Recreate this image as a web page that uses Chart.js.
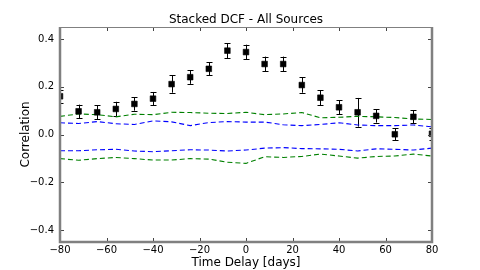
<!DOCTYPE html>
<html><head><meta charset="utf-8">
<script src="https://cdn.jsdelivr.net/npm/chart.js@4.4.0/dist/chart.umd.min.js"></script>
<style>html,body{margin:0;padding:0;background:#fff}</style>
</head><body>
<canvas id="c" width="480" height="270"></canvas>
<script>
const delays = [-80,-72,-64,-56,-48,-40,-32,-24,-16,-8,0,8,16,24,32,40,48,56,64,72,80];
const dcf = [0.160,0.097,0.093,0.107,0.128,0.150,0.211,0.240,0.275,0.351,0.345,0.295,0.295,0.207,0.154,0.114,0.093,0.078,0.001,0.074,0.003];
const dcfErr = [0.027,0.028,0.030,0.030,0.028,0.028,0.036,0.028,0.028,0.031,0.031,0.031,0.031,0.032,0.032,0.030,0.060,0.028,0.025,0.027,0.025];
const greenUpper = [0.076,0.086,0.083,0.074,0.085,0.083,0.093,0.092,0.089,0.088,0.093,0.083,0.086,0.092,0.070,0.072,0.076,0.074,0.071,0.065,0.063];
const blueUpper = [0.049,0.046,0.054,0.045,0.042,0.057,0.053,0.037,0.050,0.054,0.052,0.052,0.041,0.037,0.042,0.049,0.040,0.037,0.037,0.040,0.032];
const blueLower = [-0.068,-0.068,-0.064,-0.062,-0.069,-0.072,-0.068,-0.064,-0.065,-0.069,-0.065,-0.057,-0.055,-0.059,-0.060,-0.062,-0.069,-0.060,-0.062,-0.065,-0.057];
const greenLower = [-0.101,-0.108,-0.101,-0.096,-0.101,-0.107,-0.107,-0.101,-0.103,-0.116,-0.121,-0.093,-0.096,-0.092,-0.082,-0.090,-0.099,-0.092,-0.090,-0.082,-0.090];
const xTicks = [-80,-60,-40,-20,0,20,40,60,80];
const yTicks = [-0.4,-0.2,0.0,0.2,0.4];
const titleText = 'Stacked DCF - All Sources';
const xLabel = 'Time Delay [days]';
const yLabel = 'Correlation';

const FONT = 'DejaVu Sans';
const pts = arr => delays.map((d,i)=>({x:d,y:arr[i]}));
const band = (arr,color) => ({data:pts(arr),showLine:true,borderColor:color,borderWidth:1.1,borderDash:[5,3],pointRadius:0,fill:false,tension:0,clip:0,order:2});
const minus = s => s.replace('-', '\u2212');

const decor = {
  id:'decor',
  beforeDatasetsDraw(chart){
    const {ctx, chartArea:a, scales:{x,y}} = chart;
    ctx.save();
    ctx.beginPath(); ctx.rect(a.left,a.top,a.right-a.left,a.bottom-a.top); ctx.clip();
    ctx.strokeStyle='#000'; ctx.lineWidth=1;
    delays.forEach((d,i)=>{
      const px = Math.round(x.getPixelForValue(d))+0.5;
      const t = y.getPixelForValue(dcf[i]+dcfErr[i]);
      const b = y.getPixelForValue(dcf[i]-dcfErr[i]);
      ctx.beginPath();
      ctx.moveTo(px,t); ctx.lineTo(px,b);
      ctx.moveTo(px-3,Math.round(t)+0.5); ctx.lineTo(px+3,Math.round(t)+0.5);
      ctx.moveTo(px-3,Math.round(b)+0.5); ctx.lineTo(px+3,Math.round(b)+0.5);
      ctx.stroke();
    });
    ctx.restore();
  },
  afterDraw(chart){
    const {ctx, chartArea:a, scales:{x,y}} = chart;
    ctx.save();
    // ticks inward
    ctx.strokeStyle='#444'; ctx.lineWidth=1;
    ctx.beginPath();
    xTicks.forEach(v=>{const p=Math.round(x.getPixelForValue(v))+0.5;
      ctx.moveTo(p,a.bottom); ctx.lineTo(p,a.bottom-4);
      ctx.moveTo(p,a.top); ctx.lineTo(p,a.top+4);});
    yTicks.forEach(v=>{const p=Math.round(y.getPixelForValue(v))+0.5;
      ctx.moveTo(a.left,p); ctx.lineTo(a.left+4,p);
      ctx.moveTo(a.right,p); ctx.lineTo(a.right-4,p);});
    ctx.stroke();
    // spines
    ctx.strokeStyle='#808080';
    ctx.lineWidth=1;
    ctx.beginPath(); ctx.moveTo(a.left,a.top+0.5); ctx.lineTo(a.right,a.top+0.5); ctx.stroke();
    ctx.lineWidth=2.5;
    ctx.beginPath();
    ctx.moveTo(a.left,a.top); ctx.lineTo(a.left,a.bottom); ctx.lineTo(a.right,a.bottom); ctx.lineTo(a.right,a.top);
    ctx.stroke();
    // title
    ctx.fillStyle='#000'; ctx.font='12px "'+FONT+'"'; ctx.textAlign='center'; ctx.textBaseline='alphabetic';
    ctx.fillText(titleText,(a.left+a.right)/2,23.3);
    ctx.restore();
  }
};

new Chart(document.getElementById('c'),{
  type:'scatter',
  data:{datasets:[
    {data:pts(dcf),pointStyle:'rect',pointRadius:4,pointBorderWidth:0.6,backgroundColor:'#000',borderColor:'#000',showLine:false,clip:0,order:0},
    band(greenUpper,'#008000'),
    band(blueUpper,'#0000ff'),
    band(blueLower,'#0000ff'),
    band(greenLower,'#008000')
  ]},
  options:{
    responsive:false, animation:false, devicePixelRatio:1,
    layout:{padding:{left:19,right:48,top:27,bottom:0}},
    plugins:{legend:{display:false},title:{display:false},tooltip:{enabled:false}},
    scales:{
      x:{type:'linear',min:-80,max:80,
        afterBuildTicks:s=>{s.ticks=xTicks.map(v=>({value:v}));},
        afterFit:s=>{s.height=28;},
        grid:{display:false,drawTicks:false},border:{display:false},
        ticks:{color:'#000',font:{family:FONT,size:10},padding:2,maxRotation:0,autoSkip:false,callback:v=>minus(String(v))},
        title:{display:true,text:xLabel,color:'#000',font:{family:FONT,size:12},padding:0}},
      y:{type:'linear',min:-0.45,max:0.45,
        afterBuildTicks:s=>{s.ticks=yTicks.map(v=>({value:v}));},
        afterFit:s=>{s.width=41;},
        grid:{display:false,drawTicks:false},border:{display:false},
        ticks:{color:'#000',font:{family:FONT,size:10},padding:6,autoSkip:false,callback:v=>minus(Number(v).toFixed(1))},
        title:{display:true,text:yLabel,color:'#000',font:{family:FONT,size:12},padding:0}}
    }
  },
  plugins:[decor]
});
</script>
</body></html>
